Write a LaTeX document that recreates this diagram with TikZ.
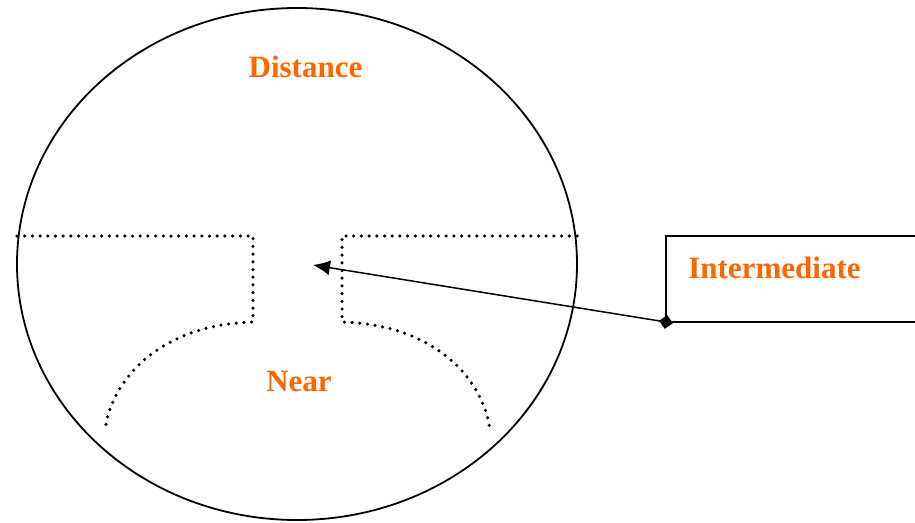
\documentclass[tikz,border=0pt]{standalone}
\usepackage{fontspec}
\setmainfont{Liberation Serif}
\usepackage{tikz}
\usetikzlibrary{positioning,arrows.meta}
\definecolor{zone}{HTML}{FF6600}

\tikzset{
  rim/.style={line width=1.8pt},
  zoneline/.style={line width=3.5pt, line cap=round, dash pattern=on 0pt off 7.7pt},
  zonelabel/.style={text=zone, font=\fontsize{31}{36}\selectfont\bfseries, anchor=base, inner sep=0pt},
  pointer/.style={line width=1.5pt, shorten <=-7pt,
    {Diamond[length=14pt,width=14pt]}-{Latex[length=17pt,width=15pt]}}
}

\begin{document}
\begin{tikzpicture}[x=1pt,y=-1pt]
  \useasboundingbox (0,0) rectangle (915,522);
  % outer ring
  \draw[rim] (297,264) ellipse [x radius=280, y radius=256];
  % left boundary of the near zone
  \draw[zoneline] (17,236) -- (253,236) -- (253,322)
    .. controls (150,325) and (108,390) .. (105,432);
  % right boundary of the near zone
  \draw[zoneline] (577,236) -- (342,236) -- (342,322)
    .. controls (445,325) and (487,390) .. (490,432);
  % zone labels
  \node[zonelabel] (distance) at (305.5,77) {Distance};
  \node[zonelabel] (near) at (299,391) {Near};
  % callout box
  \draw[line width=1.5pt] (915,236) -- (666,236) -- (666,322) -- (915,322);
  \node[zonelabel] (inter) at (774.5,278) {Intermediate};
  \coordinate (corner) at (666,322);
  \coordinate (gap) at (313,265);
  \draw[pointer] (corner) -- (gap);
\end{tikzpicture}
\end{document}
